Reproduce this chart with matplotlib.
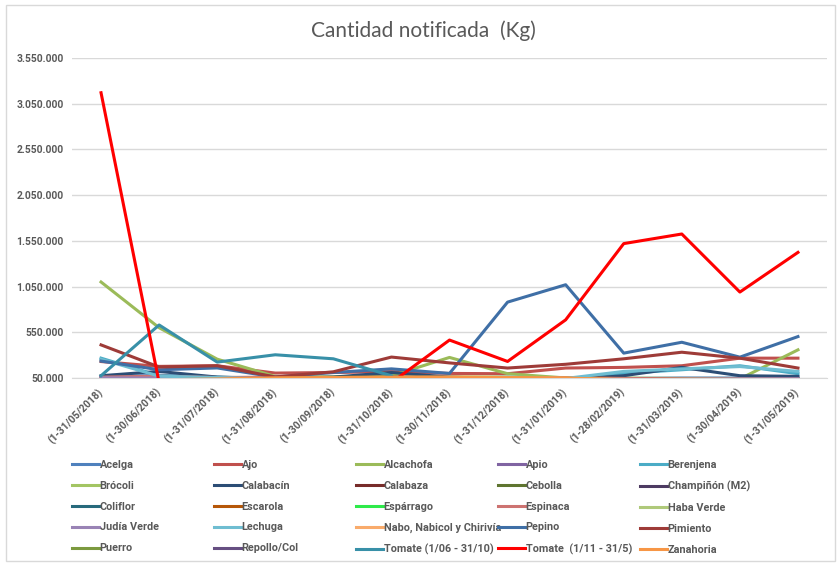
import matplotlib
matplotlib.use('Agg')
import matplotlib.pyplot as plt
import numpy as np
from matplotlib.ticker import FuncFormatter
from matplotlib.patches import Rectangle

plt.rcParams['font.family'] = ['Lato', 'DejaVu Sans']
negrita = ['Roboto', 'DejaVu Sans']

nan = np.nan

meses = ['(1-31/05/2018)', '(1-30/06/2018)', '(1-31/07/2018)', '(1-31/08/2018)',
         '(1-30/09/2018)', '(1-31/10/2018)', '(1-30/11/2018)', '(1-31/12/2018)',
         '(1-31/01/2019)', '(1-28/02/2019)', '(1-31/03/2019)', '(1-30/04/2019)',
         '(1-31/05/2019)']

# Kg notificados por producto
acelga = [60000, 80000, 55000, 40000, 45000, 60000, 55000, 50000, 45000, 45000, 50000, 50000, 50000]
ajo = [230000, 177000, 184000, 104000, 110000, 120000, 100000, 97000, 159000, 166000, 184000, 267000, 267000]
alcachofa = [1100000, 600000, 256000, 67000, 60000, 75000, 275000, 97000, 50000, 40000, 40000, 40000, 358000]
apio = [55000, 55000, 30000, 10000, 10000, 10000, 10000, 10000, 10000, 10000, 10000, 10000, 10000]
berenjena = [267000, 75000, 60000, 45000, 50000, 60000, 50000, 55000, 40000, 100000, 140000, 184000, 97000]
brocoli = [20000, 10000, 10000, 20000, 40000, 55000, 60000, 60000, 55000, 50000, 45000, 45000, 45000]
calabacin = [75000, 122000, 60000, 40000, 60000, 110000, 60000, 40000, 30000, 75000, 166000, 75000, 68000]
calabaza = [30000, 20000, 20000, 25000, 35000, 40000, 40000, 35000, 30000, 30000, 25000, 25000, 25000]
cebolla = [30000, 30000, 40000, 55000, 58000, 60000, 55000, 40000, 30000, 30000, 30000, 30000, 30000]
champinon = [10000, 10000, 10000, 10000, 10000, 10000, 10000, 10000, 10000, 10000, 10000, 10000, 10000]
coliflor = [20000, 10000, 10000, 20000, 40000, 50000, 52000, 50000, 45000, 40000, 30000, 20000, 20000]
escarola = [20000, 10000, 10000, 20000, 35000, 45000, 55000, 55000, 50000, 45000, 35000, 25000, 20000]
esparrago = [15000, 5000, 5000, 5000, 5000, 5000, 5000, 5000, 5000, 10000, 15000, 15000, 15000]
espinaca = [60000, 70000, 55000, 60000, 55000, 60000, 55000, 55000, 50000, 45000, 40000, 40000, 40000]
haba_verde = [20000, 5000, 5000, 5000, 10000, 20000, 30000, 35000, 35000, 35000, 30000, 25000, 20000]
judia_verde = [52000, 50000, 35000, 30000, 35000, 40000, 40000, 35000, 30000, 30000, 35000, 40000, 40000]
lechuga = [255000, 70000, 55000, 40000, 40000, 45000, 45000, 60000, 45000, 122000, 150000, 175000, 122000]
nabo = [20000, 20000, 30000, 45000, 52000, 55000, 58000, 54000, 48000, 30000, 25000, 20000, 20000]
pepino = [235000, 140000, 160000, 60000, 110000, 150000, 100000, 880000, 1070000, 322000, 441000, 278000, 503000]
pimiento = [412000, 170000, 184000, 61000, 118000, 279000, 215000, 159000, 200000, 260000, 332000, 267000, 159000]
puerro = [20000, 20000, 30000, 45000, 55000, 58000, 57000, 55000, 40000, 30000, 25000, 20000, 20000]
repollo = [15000, 10000, 10000, 15000, 25000, 35000, 40000, 40000, 35000, 30000, 25000, 20000, 15000]
tomate_verano = [75000, 630000, 224000, 304000, 260000, 75000, nan, nan, nan, nan, nan, nan, nan]
tomate_invierno = [3170000, 0, 0, 0, 0, 0, 465000, 231000, 686000, 1520000, 1625000, 990000, 1424000]
zanahoria = [30000, 30000, 40000, 52000, 55000, 58000, 60000, 56000, 50000, 30000, 30000, 30000, 30000]

series = [
    ('Acelga', acelga, '#4F81BD'),
    ('Ajo', ajo, '#C0504D'),
    ('Alcachofa', alcachofa, '#9BBB59'),
    ('Apio', apio, '#8064A2'),
    ('Berenjena', berenjena, '#4BACC6'),
    ('Brócoli', brocoli, '#A3C563'),
    ('Calabacín', calabacin, '#2C4D75'),
    ('Calabaza', calabaza, '#772C2A'),
    ('Cebolla', cebolla, '#5F7530'),
    ('Champiñón (M2)', champinon, '#4D3B62'),
    ('Coliflor', coliflor, '#276A7C'),
    ('Escarola', escarola, '#B65708'),
    ('Espárrago', esparrago, '#2EEA4A'),
    ('Espinaca', espinaca, '#CD7371'),
    ('Haba Verde', haba_verde, '#AFC97A'),
    ('Judía Verde', judia_verde, '#9983B5'),
    ('Lechuga', lechuga, '#6FBDD1'),
    ('Nabo, Nabicol y Chirivía', nabo, '#F9AB6B'),
    ('Pepino', pepino, '#3F6FA6'),
    ('Pimiento', pimiento, '#9E3B38'),
    ('Puerro', puerro, '#7C9A3F'),
    ('Repollo/Col', repollo, '#664F82'),
    ('Tomate (1/06 - 31/10)', tomate_verano, '#3890A8'),
    ('Tomate  (1/11 - 31/5)', tomate_invierno, '#FF0000'),
    ('Zanahoria', zanahoria, '#F79646'),
]

gris = '#595959'

fig = plt.figure(figsize=(8.4, 5.65), dpi=100)
ax = fig.add_axes([72 / 840, 1 - 378 / 565, (827 - 72) / 840, (378 - 58) / 565])

x = np.arange(len(meses))
lineas = []
for nombre, valores, color in series:
    l, = ax.plot(x, valores, color=color, lw=2.2, label=nombre)
    lineas.append(l)

ax.set_xlim(-0.5, len(meses) - 0.5)
ax.set_ylim(50000, 3550000)
ax.set_yticks(np.arange(50000, 3550001, 500000))
ax.yaxis.set_major_formatter(FuncFormatter(lambda v, p: f'{int(v):,}'.replace(',', '.')))
ax.grid(axis='y', color='#D9D9D9', lw=1)
ax.set_axisbelow(True)
for s in ['top', 'right', 'left']:
    ax.spines[s].set_visible(False)
ax.spines['bottom'].set_color('#D9D9D9')
ax.spines['bottom'].set_zorder(0.5)
ax.tick_params(axis='both', length=0, labelsize=7.4, labelcolor=gris)
ax.tick_params(axis='y', pad=6)
ax.tick_params(axis='x', pad=9)
ax.set_xticks(x)
ax.set_xticklabels(meses, rotation=45, ha='right', va='center', rotation_mode='anchor')
for t in ax.get_xticklabels() + ax.get_yticklabels():
    t.set_fontweight('bold')
    t.set_family(negrita)

fig.text(423 / 840, 1 - 31 / 565, 'Cantidad notificada  (Kg)', ha='center', va='center',
         fontsize=15, color=gris)

# leyenda: 5 columnas de igual ancho, orden por filas
col_x = [72, 214, 356, 498, 640]
for c in range(5):
    hs = lineas[c::5]
    leg = fig.legend(handles=hs, labels=[h.get_label() for h in hs],
                     loc='upper left', bbox_to_anchor=(col_x[c] / 840, 1 - 460 / 565),
                     frameon=False, borderpad=0, borderaxespad=0, handlelength=2.45,
                     handletextpad=0.1, labelspacing=1.0,
                     prop={'family': negrita, 'size': 7.8, 'weight': 'bold'})
    for t in leg.get_texts():
        t.set_color(gris)

fig.add_artist(Rectangle((6 / 840, 4 / 565), 829 / 840, 556 / 565, transform=fig.transFigure,
                         fill=False, ec='#D9D9D9', lw=1))

fig.savefig('out.png', dpi=100)
